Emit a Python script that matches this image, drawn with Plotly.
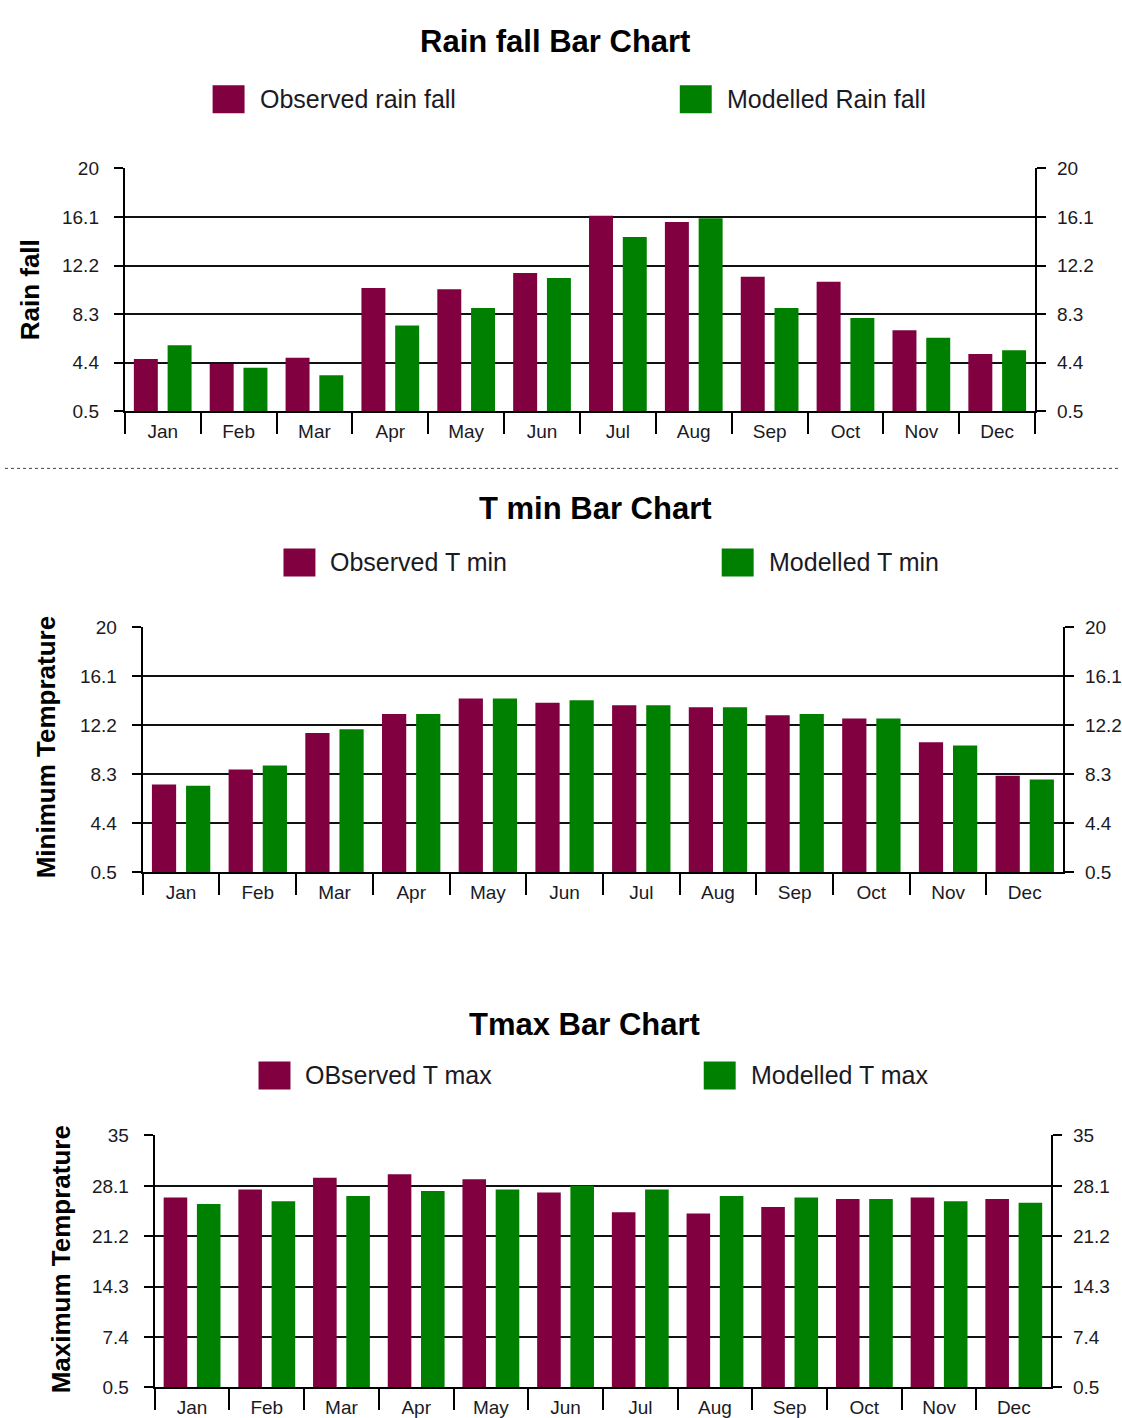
import plotly.graph_objects as go

# ---- data -------------------------------------------------------------
months = ["Jan", "Feb", "Mar", "Apr", "May", "Jun",
          "Jul", "Aug", "Sep", "Oct", "Nov", "Dec"]

rain_observed = [4.7, 4.3, 4.8, 10.4, 10.3, 11.6, 16.2, 15.7, 11.3, 10.9, 7.0, 5.1]
rain_modelled = [5.8, 4.0, 3.4, 7.4, 8.8, 11.2, 14.5, 16.0, 8.8, 8.0, 6.4, 5.4]

tmin_observed = [7.5, 8.7, 11.6, 13.1, 14.35, 14.0, 13.8, 13.65, 13.0, 12.75, 10.85, 8.2]
tmin_modelled = [7.4, 9.0, 11.9, 13.1, 14.35, 14.2, 13.8, 13.65, 13.1, 12.75, 10.6, 7.9]

tmax_observed = [26.5, 27.6, 29.2, 29.7, 29.0, 27.2, 24.5, 24.3, 25.2, 26.3, 26.5, 26.3]
tmax_modelled = [25.6, 26.0, 26.7, 27.4, 27.6, 28.1, 27.6, 26.7, 26.5, 26.3, 26.0, 25.8]

rain_ticks = [0.5, 4.4, 8.3, 12.2, 16.1, 20]
tmin_ticks = [0.5, 4.4, 8.3, 12.2, 16.1, 20]
tmax_ticks = [0.5, 7.4, 14.3, 21.2, 28.1, 35]

# ---- styling ----------------------------------------------------------
W, H = 1122, 1418
OBS_COLOR = "#800040"
MOD_COLOR = "#008000"
FONT = "Liberation Sans, Arial, sans-serif"
TEXT = "#1a1a24"
TICK_SIZE = 19

# page layout in pixels (left, right, top, bottom of each plotting box)
panels = [
    dict(title="Rain fall Bar Chart", ytitle="Rain fall",
         obs_name="Observed rain fall", mod_name="Modelled Rain fall",
         obs=rain_observed, mod=rain_modelled, ticks=rain_ticks,
         box=(125, 1037, 169, 412), title_xy=(556, 42),
         leg=((213, 100), (681, 100)), ytitle_xy=(30, 290)),
    dict(title="T min Bar Chart", ytitle="Minimum Temprature",
         obs_name="Observed T min", mod_name="Modelled T min",
         obs=tmin_observed, mod=tmin_modelled, ticks=tmin_ticks,
         box=(143, 1065, 628, 873), title_xy=(597, 509),
         leg=((284, 563), (723, 563)), ytitle_xy=(46, 748)),
    dict(title="Tmax Bar Chart", ytitle="Maximum Temprature",
         obs_name="OBserved T max", mod_name="Modelled T max",
         obs=tmax_observed, mod=tmax_modelled, ticks=tmax_ticks,
         box=(155, 1053, 1136, 1388), title_xy=(586, 1025),
         leg=((259, 1076), (705, 1076)), ytitle_xy=(62, 1260)),
]

# vertical page calibration (page content is letterboxed slightly)
Y_GAIN = 0.9844
Y_OFFSET = 10.65


def px_x(x):
    return x / W


def px_y(y):
    return 1 - ((y - Y_OFFSET) / Y_GAIN) / H


fig = go.Figure()
layout = {}
shapes = []
annotations = []

for i, p in enumerate(panels):
    n = i + 1
    xa = "x" if n == 1 else f"x{n}"
    ya = "y" if n == 1 else f"y{n}"
    yr = f"y{n + 3}"
    x0, x1, y0, y1 = p["box"]
    rng = [p["ticks"][0], p["ticks"][-1]]

    fig.add_trace(go.Bar(x=months, y=p["obs"], name=p["obs_name"],
                         marker=dict(color=OBS_COLOR, line=dict(width=0)),
                         xaxis=xa, yaxis=ya, showlegend=False))
    fig.add_trace(go.Bar(x=months, y=p["mod"], name=p["mod_name"],
                         marker=dict(color=MOD_COLOR, line=dict(width=0)),
                         xaxis=xa, yaxis=ya, showlegend=False))
    # invisible companion trace so the right-hand value axis is rendered
    fig.add_trace(go.Scatter(x=months, y=p["obs"], mode="markers",
                             marker=dict(opacity=0), hoverinfo="skip",
                             xaxis=xa, yaxis=yr, showlegend=False))

    xkey = "xaxis" if n == 1 else f"xaxis{n}"
    ykey = "yaxis" if n == 1 else f"yaxis{n}"
    rkey = f"yaxis{n + 3}"

    layout[xkey] = dict(
        domain=[px_x(x0), px_x(x1)], anchor=ya, type="category",
        categoryorder="array", categoryarray=months,
        range=[-0.5, len(months) - 0.5],
        showline=True, linecolor="black", linewidth=2,
        ticks="outside", tickson="boundaries", ticklen=21, tickwidth=2,
        tickcolor="black", showgrid=False, zeroline=False,
        tickfont=dict(family=FONT, size=TICK_SIZE, color=TEXT),
        ticklabelstandoff=2,
    )
    layout[ykey] = dict(
        domain=[px_y(y1), px_y(y0)], anchor=xa, range=rng,
        tickmode="array", tickvals=p["ticks"],
        ticktext=[f"{v:g}" for v in p["ticks"]],
        showline=True, linecolor="black", linewidth=2,
        ticks="outside", ticklen=9, tickwidth=2, tickcolor="black",
        showgrid=True, gridcolor="#111111", gridwidth=1.6,
        zeroline=False, tickfont=dict(family=FONT, size=TICK_SIZE, color=TEXT),
        ticklabelstandoff=11,
    )
    layout[rkey] = dict(
        overlaying=ya, side="right", anchor=xa, range=rng,
        tickmode="array", tickvals=p["ticks"],
        ticktext=[f"{v:g}" for v in p["ticks"]],
        showline=True, linecolor="black", linewidth=2,
        ticks="outside", ticklen=9, tickwidth=2, tickcolor="black",
        showgrid=False, zeroline=False,
        tickfont=dict(family=FONT, size=TICK_SIZE, color=TEXT),
        ticklabelstandoff=7,
    )

    # chart title
    tx, ty = p["title_xy"]
    annotations.append(dict(text=f"<b>{p['title']}</b>", x=px_x(tx), y=px_y(ty),
                            xref="paper", yref="paper", showarrow=False,
                            xanchor="center", yanchor="middle",
                            font=dict(family=FONT, size=31, color="black")))
    # rotated value-axis title
    ax_, ay_ = p["ytitle_xy"]
    annotations.append(dict(text=f"<b>{p['ytitle']}</b>", x=px_x(ax_), y=px_y(ay_),
                            xref="paper", yref="paper", showarrow=False,
                            textangle=-90, xanchor="center", yanchor="middle",
                            font=dict(family=FONT, size=26, color="black")))
    # legend: coloured swatch + series name
    for (lx, ly), color, label in zip(p["leg"], (OBS_COLOR, MOD_COLOR),
                                      (p["obs_name"], p["mod_name"])):
        shapes.append(dict(type="rect", xref="paper", yref="paper",
                           x0=px_x(lx), x1=px_x(lx + 32),
                           y0=px_y(ly + 14), y1=px_y(ly - 14),
                           fillcolor=color, line=dict(width=0)))
        annotations.append(dict(text=label, x=px_x(lx + 45), y=px_y(ly),
                                xref="paper", yref="paper", showarrow=False,
                                xanchor="left", yanchor="middle",
                                font=dict(family=FONT, size=25, color=TEXT)))

# dotted separator under the first chart
shapes.append(dict(type="line", xref="paper", yref="paper",
                   x0=px_x(5), x1=1, y0=px_y(469), y1=px_y(469),
                   line=dict(color="#444444", width=1, dash="dot")))

fig.update_layout(
    width=W, height=H, margin=dict(l=0, r=0, t=0, b=0),
    paper_bgcolor="white", plot_bgcolor="white",
    barmode="group", bargap=0.11, bargroupgap=0.29,
    showlegend=False, shapes=shapes, annotations=annotations,
    font=dict(family=FONT, color=TEXT),
    **layout,
)

fig.write_html(
    "out.html",
    config={"displayModeBar": False},
    post_script="document.body.style.margin='0';document.body.style.overflow='hidden';",
)
